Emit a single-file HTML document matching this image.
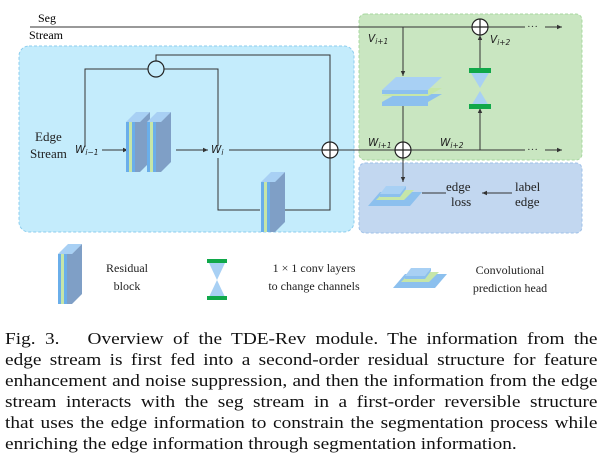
<!DOCTYPE html>
<html><head><meta charset="utf-8"><style>
body{margin:0;width:609px;height:455px;background:#fff;overflow:hidden;position:relative;font-family:"Liberation Serif",serif}
svg{position:absolute;left:0;top:0}
.cap{position:absolute;left:5px;width:522px;font-size:17px;line-height:21px;text-align:justify;text-align-last:justify;white-space:nowrap;color:#111;transform:scaleX(1.135);transform-origin:0 0}
.cap.last{text-align-last:left}
</style></head><body>
<svg width="609" height="320" viewBox="0 0 609 320" font-family="Liberation Serif, serif">
<defs>
<marker id="a" markerWidth="6" markerHeight="6" refX="5" refY="3" orient="auto"><path d="M0,0.8 L5,3 L0,5.2z" fill="#333"/></marker>
<g id="rb">
<polygon points="0,10 10,0 24,0 14,10" fill="#a8d0f4"/>
<rect x="0" y="10" width="3" height="50" fill="#6aaeea"/>
<rect x="3" y="10" width="3" height="50" fill="#c6e6a8"/>
<rect x="6" y="10" width="3" height="50" fill="#6aaeea"/>
<polygon points="9,10 14,10 24,0 24,50 14,60 9,60" fill="#7f9fc6"/>
</g>
<g id="ph">
<polygon points="0,24 12,10 54,10 42,24" fill="#8cc0ee"/>
<polygon points="8,18 18,8 46,8 36,18" fill="#c6e6a8"/>
<polygon points="12,12 18,4 38,4 32,12" fill="#a8d0f4"/>
<polygon points="12,12 32,12 38,4 38,7 32,15 12,15" fill="#8cc0ee"/>
</g>
</defs>
<text x="38" y="22" font-size="12">Seg</text>
<text x="29" y="39" font-size="12">Stream</text>
<rect x="19" y="46" width="335" height="186" rx="10" fill="#c4ecfc" stroke="#8ccdee" stroke-dasharray="3,2"/>
<rect x="359" y="14" width="223" height="146" rx="6" fill="#c9e6c1" stroke="#a8d8a0" stroke-dasharray="3,2"/>
<rect x="359" y="163" width="223" height="70" rx="6" fill="#c2d7f0" stroke="#9ec0e8" stroke-dasharray="3,2"/>
<g stroke="#333" stroke-width="1" fill="none">
<line x1="30" y1="27" x2="472" y2="27"/>
<line x1="488" y1="27" x2="525" y2="27"/>
<line x1="545" y1="27" x2="562" y2="27" marker-end="url(#a)"/>
<polyline points="85,147 85,69 148,69"/>
<polyline points="164,69 218,69 218,146"/>
<polyline points="156,61 156,55 330,55 330,142"/>
<line x1="102" y1="150" x2="128" y2="150" marker-end="url(#a)"/>
<line x1="176" y1="150" x2="208" y2="150" marker-end="url(#a)"/>
<line x1="229" y1="150" x2="322" y2="150"/>
<polyline points="218,158 218,210 260,210"/>
<polyline points="272,210 330,210 330,158"/>
<line x1="338" y1="150" x2="395" y2="150"/>
<line x1="411" y1="150" x2="525" y2="150"/>
<line x1="545" y1="150" x2="562" y2="150" marker-end="url(#a)"/>
<line x1="403" y1="27" x2="403" y2="76" marker-end="url(#a)"/>
<line x1="403" y1="106" x2="403" y2="142"/>
<line x1="403" y1="158" x2="403" y2="182" marker-end="url(#a)"/>
<line x1="480" y1="150" x2="480" y2="108" marker-end="url(#a)"/>
<line x1="480" y1="68" x2="480" y2="35" marker-end="url(#a)"/>
<line x1="422" y1="193" x2="446" y2="193"/>
<line x1="512" y1="193" x2="482" y2="193" marker-end="url(#a)"/>
</g>
<g font-size="11" fill="#333"><text x="527" y="30">···</text><text x="527" y="153">···</text></g>
<g stroke="#222" stroke-width="1.2" fill="#fff">
<circle cx="156" cy="69" r="8" fill="none"/>
<circle cx="330" cy="150" r="8"/><path d="M322,150h16M330,142v16"/>
<circle cx="403" cy="150" r="8"/><path d="M395,150h16M403,142v16"/>
<circle cx="480" cy="27" r="8"/><path d="M472,27h16M480,19v16"/>
</g>
<use href="#rb" x="126" y="112"/>
<use href="#rb" x="147" y="112"/>
<use href="#rb" x="261" y="172"/>
<g>
<polygon points="382,102 396,94 442,94 428,102" fill="#8cc0ee"/>
<rect x="382" y="102" width="46" height="4" fill="#8cc0ee"/>
<polygon points="382,96 396,88 442,88 428,96" fill="#c6e6a8"/>
<polygon points="382,90 396,77 442,77 428,90" fill="#a8d0f4"/>
<rect x="382" y="90" width="46" height="4" fill="#8cc0ee"/>
</g>
<g>
<polygon points="471,73 489,73 480,88" fill="#a8d0f4"/>
<polygon points="471,106 489,106 480,91" fill="#a8d0f4"/>
<rect x="469" y="68" width="22" height="5" fill="#10a84a"/>
<rect x="469" y="104" width="22" height="5" fill="#10a84a"/>
</g>
<use href="#ph" x="368" y="182"/>
<g font-size="13" fill="#222">
<text x="35" y="141">Edge</text><text x="30" y="158">Stream</text>
<text x="446" y="191">edge</text><text x="451" y="206">loss</text>
<text x="515" y="191">label</text><text x="515" y="206">edge</text>
</g>
<g font-family="DejaVu Sans, sans-serif" font-style="italic" font-size="10.5" fill="#222">
<text x="75" y="153">W<tspan font-size="7.5" dy="2">i−1</tspan></text>
<text x="211" y="153">W<tspan font-size="7.5" dy="2">i</tspan></text>
<text x="368" y="146">W<tspan font-size="7.5" dy="2">i+1</tspan></text>
<text x="440" y="146">W<tspan font-size="7.5" dy="2">i+2</tspan></text>
<text x="368" y="42">V<tspan font-size="7.5" dy="2">i+1</tspan></text>
<text x="490" y="43">V<tspan font-size="7.5" dy="2">i+2</tspan></text>
</g>
<use href="#rb" x="58" y="244"/>
<g>
<polygon points="209,263 225,263 217,280" fill="#a8d0f4"/>
<polygon points="209,297 225,297 217,280" fill="#a8d0f4"/>
<rect x="207" y="259" width="20" height="4" fill="#10a84a"/>
<rect x="207" y="296" width="20" height="4" fill="#10a84a"/>
</g>
<use href="#ph" x="393" y="264"/>
<g font-size="12" fill="#222" text-anchor="middle">
<text x="127" y="272">Residual</text><text x="127" y="290">block</text>
<text x="314" y="272">1 × 1 conv layers</text><text x="314" y="290">to change channels</text>
<text x="510" y="274">Convolutional</text><text x="510" y="292">prediction head</text>
</g>
</svg>
<div class="cap" style="top:328px">Fig. 3.&nbsp;&nbsp; Overview of the TDE-Rev module. The information from the</div>
<div class="cap" style="top:349px">edge stream is first fed into a second-order residual structure for feature</div>
<div class="cap" style="top:370px">enhancement and noise suppression, and then the information from the edge</div>
<div class="cap" style="top:391px">stream interacts with the seg stream in a first-order reversible structure</div>
<div class="cap" style="top:412px">that uses the edge information to constrain the segmentation process while</div>
<div class="cap last" style="top:433px">enriching the edge information through segmentation information.</div>
</body></html>
